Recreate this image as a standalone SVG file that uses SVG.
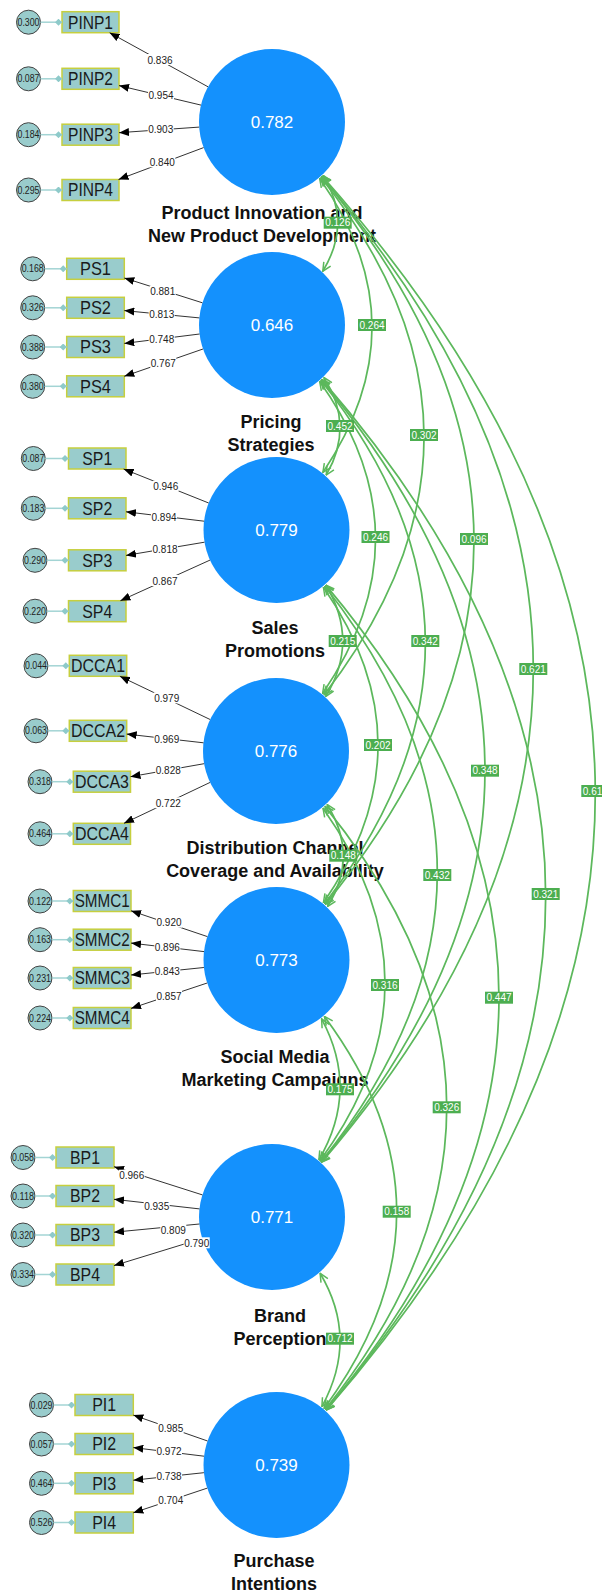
<svg xmlns="http://www.w3.org/2000/svg" width="602" height="1591" viewBox="0 0 602 1591">
<defs>
<marker id="ga" viewBox="0 0 10 10" refX="9.5" refY="5" markerWidth="10" markerHeight="10" markerUnits="userSpaceOnUse" orient="auto-start-reverse"><path d="M1,1 L9.5,5 L1,9" fill="none" stroke="#5cb85c" stroke-width="1.5"/></marker>
<marker id="ba" viewBox="0 0 10 8" refX="10" refY="4" markerWidth="10" markerHeight="8" markerUnits="userSpaceOnUse" orient="auto"><path d="M0,0 L10,4 L0,8 Z" fill="#000"/></marker>
<marker id="dia" viewBox="0 0 7 7" refX="7" refY="3.5" markerWidth="7" markerHeight="7" markerUnits="userSpaceOnUse" orient="auto"><path d="M0,3.5 L3.5,0 L7,3.5 L3.5,7 Z" fill="#8ecaca"/></marker>
</defs>
<style>
.lat circle{fill:#1491fd}
.lat .v{font-family:"Liberation Sans",Arial,sans-serif;font-size:17px;fill:#fff;text-anchor:middle}
.lat .n{font-family:"Liberation Sans",Arial,sans-serif;font-size:18px;font-weight:bold;fill:#111;text-anchor:middle}
.ind rect{fill:#99cccc;stroke:#c6cf3e;stroke-width:1.5}
.ind text{font-family:"Liberation Sans",Arial,sans-serif;font-size:18px;fill:#1a1a1a;text-anchor:middle}
.err circle{fill:#99cccc;stroke:#444;stroke-width:1}
.err text{font-family:"Liberation Sans",Arial,sans-serif;font-size:10px;fill:#222;text-anchor:middle}
.el{stroke:#a3d4d4;stroke-width:1.5;marker-end:url(#dia)}
.ld{stroke:#333;stroke-width:1;marker-end:url(#ba)}
.ll rect{fill:#fff}
.ll text{font-family:"Liberation Sans",Arial,sans-serif;font-size:10px;fill:#222;text-anchor:middle}
.cv{fill:none;stroke:#5cb85c;stroke-width:1.7;marker-start:url(#ga);marker-end:url(#ga)}
.gl rect{fill:#4cae50}
.gl text{font-family:"Liberation Sans",Arial,sans-serif;font-size:10px;fill:#fff;text-anchor:middle}
</style>
<rect width="602" height="1591" fill="#fff"/>

<!-- latent nodes -->
<g id="PINP" class="lat"><circle cx="272" cy="122" r="73"/><text class="v" x="272" y="128">0.782</text><text class="n" x="262" y="219">Product Innovation and</text><text class="n" x="262" y="242">New Product Development</text></g>
<g id="PS" class="lat"><circle cx="272" cy="325" r="73"/><text class="v" x="272" y="331">0.646</text><text class="n" x="271" y="428">Pricing</text><text class="n" x="271" y="451">Strategies</text></g>
<g id="SP" class="lat"><circle cx="276.5" cy="530" r="73"/><text class="v" x="276.5" y="536">0.779</text><text class="n" x="275" y="634">Sales</text><text class="n" x="275" y="657">Promotions</text></g>
<g id="DCCA" class="lat"><circle cx="276" cy="751" r="73"/><text class="v" x="276" y="757">0.776</text><text class="n" x="275" y="854">Distribution Channel</text><text class="n" x="275" y="877">Coverage and Availability</text></g>
<g id="SMMC" class="lat"><circle cx="276.5" cy="960" r="73"/><text class="v" x="276.5" y="966">0.773</text><text class="n" x="275" y="1063">Social Media</text><text class="n" x="275" y="1086">Marketing Campaigns</text></g>
<g id="BP" class="lat"><circle cx="272" cy="1217" r="73"/><text class="v" x="272" y="1223">0.771</text><text class="n" x="280" y="1322">Brand</text><text class="n" x="280" y="1345">Perception</text></g>
<g id="PI" class="lat"><circle cx="276.5" cy="1465" r="73"/><text class="v" x="276.5" y="1471">0.739</text><text class="n" x="274" y="1567">Purchase</text><text class="n" x="274" y="1590">Intentions</text></g>

<!-- indicator nodes -->
<g id="PINP1" class="ind"><rect x="62" y="11.7" width="57" height="21"/><text x="90.5" y="28.5" textLength="45" lengthAdjust="spacingAndGlyphs">PINP1</text></g>
<g id="PINP2" class="ind"><rect x="62" y="68.3" width="57" height="21"/><text x="90.5" y="85.1" textLength="45" lengthAdjust="spacingAndGlyphs">PINP2</text></g>
<g id="PINP3" class="ind"><rect x="62" y="124.2" width="57" height="21"/><text x="90.5" y="141" textLength="45" lengthAdjust="spacingAndGlyphs">PINP3</text></g>
<g id="PINP4" class="ind"><rect x="62" y="179.5" width="57" height="21"/><text x="90.5" y="196.3" textLength="45" lengthAdjust="spacingAndGlyphs">PINP4</text></g>
<g id="PS1" class="ind"><rect x="66.7" y="258.3" width="57.6" height="21"/><text x="95.5" y="275.1" textLength="31" lengthAdjust="spacingAndGlyphs">PS1</text></g>
<g id="PS2" class="ind"><rect x="66.7" y="297.3" width="57.6" height="21"/><text x="95.5" y="314.1" textLength="31" lengthAdjust="spacingAndGlyphs">PS2</text></g>
<g id="PS3" class="ind"><rect x="66.7" y="336.5" width="57.6" height="21"/><text x="95.5" y="353.3" textLength="31" lengthAdjust="spacingAndGlyphs">PS3</text></g>
<g id="PS4" class="ind"><rect x="66.7" y="375.8" width="57.6" height="21"/><text x="95.5" y="392.6" textLength="31" lengthAdjust="spacingAndGlyphs">PS4</text></g>
<g id="SP1" class="ind"><rect x="68.5" y="448" width="57.5" height="21"/><text x="97.25" y="464.8" textLength="30" lengthAdjust="spacingAndGlyphs">SP1</text></g>
<g id="SP2" class="ind"><rect x="68.5" y="497.8" width="57.5" height="21"/><text x="97.25" y="514.6" textLength="30" lengthAdjust="spacingAndGlyphs">SP2</text></g>
<g id="SP3" class="ind"><rect x="68.5" y="549.8" width="57.5" height="21"/><text x="97.25" y="566.6" textLength="30" lengthAdjust="spacingAndGlyphs">SP3</text></g>
<g id="SP4" class="ind"><rect x="68.5" y="600.7" width="57.5" height="21"/><text x="97.25" y="617.5" textLength="30" lengthAdjust="spacingAndGlyphs">SP4</text></g>
<g id="DCCA1" class="ind"><rect x="69.3" y="655.3" width="57.4" height="21"/><text x="98" y="672.1" textLength="54" lengthAdjust="spacingAndGlyphs">DCCA1</text></g>
<g id="DCCA2" class="ind"><rect x="69.3" y="720.3" width="57.4" height="21"/><text x="98" y="737.1" textLength="54" lengthAdjust="spacingAndGlyphs">DCCA2</text></g>
<g id="DCCA3" class="ind"><rect x="73.3" y="771.2" width="57.2" height="21"/><text x="101.9" y="788" textLength="54" lengthAdjust="spacingAndGlyphs">DCCA3</text></g>
<g id="DCCA4" class="ind"><rect x="73.3" y="823.3" width="57.2" height="21"/><text x="101.9" y="840.1" textLength="54" lengthAdjust="spacingAndGlyphs">DCCA4</text></g>
<g id="SMMC1" class="ind"><rect x="73.3" y="890.5" width="57.7" height="21"/><text x="102.15" y="907.3" textLength="55" lengthAdjust="spacingAndGlyphs">SMMC1</text></g>
<g id="SMMC2" class="ind"><rect x="73.3" y="929.2" width="57.7" height="21"/><text x="102.15" y="946" textLength="55" lengthAdjust="spacingAndGlyphs">SMMC2</text></g>
<g id="SMMC3" class="ind"><rect x="73.3" y="967.5" width="57.7" height="21"/><text x="102.15" y="984.3" textLength="55" lengthAdjust="spacingAndGlyphs">SMMC3</text></g>
<g id="SMMC4" class="ind"><rect x="73.3" y="1007.5" width="57.7" height="21"/><text x="102.15" y="1024.3" textLength="55" lengthAdjust="spacingAndGlyphs">SMMC4</text></g>
<g id="BP1" class="ind"><rect x="56" y="1147" width="58" height="21"/><text x="85" y="1163.8" textLength="30" lengthAdjust="spacingAndGlyphs">BP1</text></g>
<g id="BP2" class="ind"><rect x="56" y="1185.5" width="58" height="21"/><text x="85" y="1202.3" textLength="30" lengthAdjust="spacingAndGlyphs">BP2</text></g>
<g id="BP3" class="ind"><rect x="56" y="1224.5" width="58" height="21"/><text x="85" y="1241.3" textLength="30" lengthAdjust="spacingAndGlyphs">BP3</text></g>
<g id="BP4" class="ind"><rect x="56" y="1264" width="58" height="21"/><text x="85" y="1280.8" textLength="30" lengthAdjust="spacingAndGlyphs">BP4</text></g>
<g id="PI1" class="ind"><rect x="75" y="1394.5" width="58.3" height="21"/><text x="104.15" y="1411.3" textLength="24" lengthAdjust="spacingAndGlyphs">PI1</text></g>
<g id="PI2" class="ind"><rect x="75" y="1433.5" width="58.3" height="21"/><text x="104.15" y="1450.3" textLength="24" lengthAdjust="spacingAndGlyphs">PI2</text></g>
<g id="PI3" class="ind"><rect x="75" y="1472.8" width="58.3" height="21"/><text x="104.15" y="1489.6" textLength="24" lengthAdjust="spacingAndGlyphs">PI3</text></g>
<g id="PI4" class="ind"><rect x="75" y="1512" width="58.3" height="21"/><text x="104.15" y="1528.8" textLength="24" lengthAdjust="spacingAndGlyphs">PI4</text></g>

<!-- error nodes -->
<g id="e_PINP1" class="err"><circle cx="28.5" cy="22.2" r="12"/><text x="28.5" y="25.8" textLength="22" lengthAdjust="spacingAndGlyphs">0.300</text></g>
<g id="e_PINP2" class="err"><circle cx="28.5" cy="78.8" r="12"/><text x="28.5" y="82.4" textLength="22" lengthAdjust="spacingAndGlyphs">0.087</text></g>
<g id="e_PINP3" class="err"><circle cx="28.5" cy="134.7" r="12"/><text x="28.5" y="138.3" textLength="22" lengthAdjust="spacingAndGlyphs">0.184</text></g>
<g id="e_PINP4" class="err"><circle cx="28.5" cy="190" r="12"/><text x="28.5" y="193.6" textLength="22" lengthAdjust="spacingAndGlyphs">0.295</text></g>
<g id="e_PS1" class="err"><circle cx="32.7" cy="268.8" r="12"/><text x="32.7" y="272.4" textLength="22" lengthAdjust="spacingAndGlyphs">0.168</text></g>
<g id="e_PS2" class="err"><circle cx="32.7" cy="307.8" r="12"/><text x="32.7" y="311.4" textLength="22" lengthAdjust="spacingAndGlyphs">0.326</text></g>
<g id="e_PS3" class="err"><circle cx="32.7" cy="347" r="12"/><text x="32.7" y="350.6" textLength="22" lengthAdjust="spacingAndGlyphs">0.388</text></g>
<g id="e_PS4" class="err"><circle cx="32.7" cy="386.3" r="12"/><text x="32.7" y="389.9" textLength="22" lengthAdjust="spacingAndGlyphs">0.380</text></g>
<g id="e_SP1" class="err"><circle cx="33.3" cy="458.5" r="12"/><text x="33.3" y="462.1" textLength="22" lengthAdjust="spacingAndGlyphs">0.087</text></g>
<g id="e_SP2" class="err"><circle cx="33.3" cy="508.3" r="12"/><text x="33.3" y="511.9" textLength="22" lengthAdjust="spacingAndGlyphs">0.183</text></g>
<g id="e_SP3" class="err"><circle cx="35" cy="560.3" r="12"/><text x="35" y="563.9" textLength="22" lengthAdjust="spacingAndGlyphs">0.290</text></g>
<g id="e_SP4" class="err"><circle cx="35" cy="611.2" r="12"/><text x="35" y="614.8" textLength="22" lengthAdjust="spacingAndGlyphs">0.220</text></g>
<g id="e_DCCA1" class="err"><circle cx="36" cy="665.8" r="12"/><text x="36" y="669.4" textLength="22" lengthAdjust="spacingAndGlyphs">0.044</text></g>
<g id="e_DCCA2" class="err"><circle cx="36" cy="730.8" r="12"/><text x="36" y="734.4" textLength="22" lengthAdjust="spacingAndGlyphs">0.063</text></g>
<g id="e_DCCA3" class="err"><circle cx="40" cy="781.7" r="12"/><text x="40" y="785.3" textLength="22" lengthAdjust="spacingAndGlyphs">0.318</text></g>
<g id="e_DCCA4" class="err"><circle cx="40" cy="833.8" r="12"/><text x="40" y="837.4" textLength="22" lengthAdjust="spacingAndGlyphs">0.464</text></g>
<g id="e_SMMC1" class="err"><circle cx="40" cy="901" r="12"/><text x="40" y="904.6" textLength="22" lengthAdjust="spacingAndGlyphs">0.122</text></g>
<g id="e_SMMC2" class="err"><circle cx="40" cy="939.7" r="12"/><text x="40" y="943.3" textLength="22" lengthAdjust="spacingAndGlyphs">0.163</text></g>
<g id="e_SMMC3" class="err"><circle cx="40" cy="978" r="12"/><text x="40" y="981.6" textLength="22" lengthAdjust="spacingAndGlyphs">0.231</text></g>
<g id="e_SMMC4" class="err"><circle cx="40" cy="1018" r="12"/><text x="40" y="1021.6" textLength="22" lengthAdjust="spacingAndGlyphs">0.224</text></g>
<g id="e_BP1" class="err"><circle cx="23" cy="1157.5" r="12"/><text x="23" y="1161.1" textLength="22" lengthAdjust="spacingAndGlyphs">0.058</text></g>
<g id="e_BP2" class="err"><circle cx="23" cy="1196" r="12"/><text x="23" y="1199.6" textLength="22" lengthAdjust="spacingAndGlyphs">0.118</text></g>
<g id="e_BP3" class="err"><circle cx="23" cy="1235" r="12"/><text x="23" y="1238.6" textLength="22" lengthAdjust="spacingAndGlyphs">0.320</text></g>
<g id="e_BP4" class="err"><circle cx="23" cy="1274.5" r="12"/><text x="23" y="1278.1" textLength="22" lengthAdjust="spacingAndGlyphs">0.334</text></g>
<g id="e_PI1" class="err"><circle cx="41.5" cy="1405" r="12"/><text x="41.5" y="1408.6" textLength="22" lengthAdjust="spacingAndGlyphs">0.029</text></g>
<g id="e_PI2" class="err"><circle cx="41.5" cy="1444" r="12"/><text x="41.5" y="1447.6" textLength="22" lengthAdjust="spacingAndGlyphs">0.057</text></g>
<g id="e_PI3" class="err"><circle cx="41.5" cy="1483.3" r="12"/><text x="41.5" y="1486.9" textLength="22" lengthAdjust="spacingAndGlyphs">0.464</text></g>
<g id="e_PI4" class="err"><circle cx="41.5" cy="1522.5" r="12"/><text x="41.5" y="1526.1" textLength="22" lengthAdjust="spacingAndGlyphs">0.526</text></g>

<!-- connectors -->
<g id="connectors">
<g id="error-links">
<line class="el" x1="40.5" y1="22.2" x2="62" y2="22.2"/><line class="el" x1="40.5" y1="78.8" x2="62" y2="78.8"/><line class="el" x1="40.5" y1="134.7" x2="62" y2="134.7"/><line class="el" x1="40.5" y1="190" x2="62" y2="190"/>
<line class="el" x1="44.7" y1="268.8" x2="66.7" y2="268.8"/><line class="el" x1="44.7" y1="307.8" x2="66.7" y2="307.8"/><line class="el" x1="44.7" y1="347" x2="66.7" y2="347"/><line class="el" x1="44.7" y1="386.3" x2="66.7" y2="386.3"/>
<line class="el" x1="45.3" y1="458.5" x2="68.5" y2="458.5"/><line class="el" x1="45.3" y1="508.3" x2="68.5" y2="508.3"/><line class="el" x1="47" y1="560.3" x2="68.5" y2="560.3"/><line class="el" x1="47" y1="611.2" x2="68.5" y2="611.2"/>
<line class="el" x1="48" y1="665.8" x2="69.3" y2="665.8"/><line class="el" x1="48" y1="730.8" x2="69.3" y2="730.8"/><line class="el" x1="52" y1="781.7" x2="73.3" y2="781.7"/><line class="el" x1="52" y1="833.8" x2="73.3" y2="833.8"/>
<line class="el" x1="52" y1="901" x2="73.3" y2="901"/><line class="el" x1="52" y1="939.7" x2="73.3" y2="939.7"/><line class="el" x1="52" y1="978" x2="73.3" y2="978"/><line class="el" x1="52" y1="1018" x2="73.3" y2="1018"/>
<line class="el" x1="35" y1="1157.5" x2="56" y2="1157.5"/><line class="el" x1="35" y1="1196" x2="56" y2="1196"/><line class="el" x1="35" y1="1235" x2="56" y2="1235"/><line class="el" x1="35" y1="1274.5" x2="56" y2="1274.5"/>
<line class="el" x1="53.5" y1="1405" x2="75" y2="1405"/><line class="el" x1="53.5" y1="1444" x2="75" y2="1444"/><line class="el" x1="53.5" y1="1483.3" x2="75" y2="1483.3"/><line class="el" x1="53.5" y1="1522.5" x2="75" y2="1522.5"/>
</g>
<g id="loadings">
<line class="ld" x1="208" y1="86.8" x2="109.6" y2="32.7"/><line class="ld" x1="201" y1="105.1" x2="119" y2="85.6"/><line class="ld" x1="199.2" y1="127.1" x2="119" y2="132.7"/><line class="ld" x1="203.6" y1="147.6" x2="118.5" y2="179.5"/>
<line class="ld" x1="202.4" y1="302.8" x2="124.3" y2="278"/><line class="ld" x1="199.3" y1="317.9" x2="124.3" y2="310.6"/><line class="ld" x1="199.6" y1="334" x2="124.3" y2="343.4"/><line class="ld" x1="203" y1="349" x2="124.3" y2="376.3"/>
<line class="ld" x1="208.7" y1="503" x2="123.6" y2="469"/><line class="ld" x1="204.1" y1="521.2" x2="126" y2="511.8"/><line class="ld" x1="204.5" y1="542.2" x2="126" y2="555.4"/><line class="ld" x1="210" y1="560.1" x2="120.4" y2="600.7"/>
<line class="ld" x1="210.1" y1="719.5" x2="119.9" y2="676.3"/><line class="ld" x1="203.5" y1="742.8" x2="126.7" y2="734.1"/><line class="ld" x1="204.1" y1="763.7" x2="130.5" y2="776.7"/><line class="ld" x1="210.1" y1="782.4" x2="124" y2="823.3"/>
<line class="ld" x1="207.4" y1="936.6" x2="131" y2="910.8"/><line class="ld" x1="204" y1="951.6" x2="131" y2="943.1"/><line class="ld" x1="203.9" y1="967.5" x2="131" y2="975"/><line class="ld" x1="207.2" y1="983" x2="131" y2="1008.4"/>
<line class="ld" x1="202.4" y1="1194.9" x2="114" y2="1166.7"/><line class="ld" x1="199.5" y1="1208.9" x2="114" y2="1199.3"/><line class="ld" x1="199.4" y1="1224" x2="114" y2="1232.2"/><line class="ld" x1="202.2" y1="1238.5" x2="114" y2="1265.6"/>
<line class="ld" x1="207.6" y1="1441" x2="133.3" y2="1415.1"/><line class="ld" x1="204" y1="1456.2" x2="133.3" y2="1447.6"/><line class="ld" x1="203.9" y1="1472.7" x2="133.3" y2="1480.2"/><line class="ld" x1="207.3" y1="1488.1" x2="133.3" y2="1512.8"/>
</g>
<g id="loading-labels" class="ll">
<g transform="translate(160,60)"><rect x="-13" y="-6" width="26" height="11"/><text y="3.5">0.836</text></g>
<g transform="translate(161,95.7)"><rect x="-13" y="-6" width="26" height="11"/><text y="3.5">0.954</text></g>
<g transform="translate(160.7,129)"><rect x="-13" y="-6" width="26" height="11"/><text y="3.5">0.903</text></g>
<g transform="translate(162.3,162.3)"><rect x="-13" y="-6" width="26" height="11"/><text y="3.5">0.840</text></g>
<g transform="translate(162.7,291.7)"><rect x="-13" y="-6" width="26" height="11"/><text y="3.5">0.881</text></g>
<g transform="translate(161.7,314)"><rect x="-13" y="-6" width="26" height="11"/><text y="3.5">0.813</text></g>
<g transform="translate(161.7,339.3)"><rect x="-13" y="-6" width="26" height="11"/><text y="3.5">0.748</text></g>
<g transform="translate(163.3,363.3)"><rect x="-13" y="-6" width="26" height="11"/><text y="3.5">0.767</text></g>
<g transform="translate(165.7,486.7)"><rect x="-13" y="-6" width="26" height="11"/><text y="3.5">0.946</text></g>
<g transform="translate(164,517.7)"><rect x="-13" y="-6" width="26" height="11"/><text y="3.5">0.894</text></g>
<g transform="translate(165,549)"><rect x="-13" y="-6" width="26" height="11"/><text y="3.5">0.818</text></g>
<g transform="translate(165,581)"><rect x="-13" y="-6" width="26" height="11"/><text y="3.5">0.867</text></g>
<g transform="translate(166.7,698.3)"><rect x="-13" y="-6" width="26" height="11"/><text y="3.5">0.979</text></g>
<g transform="translate(166.7,739.3)"><rect x="-13" y="-6" width="26" height="11"/><text y="3.5">0.969</text></g>
<g transform="translate(168.3,770)"><rect x="-13" y="-6" width="26" height="11"/><text y="3.5">0.828</text></g>
<g transform="translate(168.3,803.3)"><rect x="-13" y="-6" width="26" height="11"/><text y="3.5">0.722</text></g>
<g transform="translate(169,922.7)"><rect x="-13" y="-6" width="26" height="11"/><text y="3.5">0.920</text></g>
<g transform="translate(167.3,947.7)"><rect x="-13" y="-6" width="26" height="11"/><text y="3.5">0.896</text></g>
<g transform="translate(167.3,971.7)"><rect x="-13" y="-6" width="26" height="11"/><text y="3.5">0.843</text></g>
<g transform="translate(169,996)"><rect x="-13" y="-6" width="26" height="11"/><text y="3.5">0.857</text></g>
<g transform="translate(131.7,1175.7)"><rect x="-13" y="-6" width="26" height="11"/><text y="3.5">0.966</text></g>
<g transform="translate(156.7,1206)"><rect x="-13" y="-6" width="26" height="11"/><text y="3.5">0.935</text></g>
<g transform="translate(173.3,1230)"><rect x="-13" y="-6" width="26" height="11"/><text y="3.5">0.809</text></g>
<g transform="translate(196.7,1243.3)"><rect x="-13" y="-6" width="26" height="11"/><text y="3.5">0.790</text></g>
<g transform="translate(170.7,1428.3)"><rect x="-13" y="-6" width="26" height="11"/><text y="3.5">0.985</text></g>
<g transform="translate(169,1451)"><rect x="-13" y="-6" width="26" height="11"/><text y="3.5">0.972</text></g>
<g transform="translate(169,1476.7)"><rect x="-13" y="-6" width="26" height="11"/><text y="3.5">0.738</text></g>
<g transform="translate(170.7,1500.7)"><rect x="-13" y="-6" width="26" height="11"/><text y="3.5">0.704</text></g>
</g>
<g id="correlations">
<path class="cv" d="M323.3,175.4 Q352.3,222.9 322.8,271.2"/>
<path class="cv" d="M319.7,178.6 Q422.7,324.5 322.9,472.4"/>
<path class="cv" d="M324,377.6 Q354.9,425.7 326.2,475.1"/>
<path class="cv" d="M321,177.5 Q525.5,434.1 324.1,694.8"/>
<path class="cv" d="M319.7,381.6 Q429.9,536.5 322.6,693.5"/>
<path class="cv" d="M321.6,176.9 Q624.5,537.6 325.3,904.4"/>
<path class="cv" d="M326,585.2 Q359.5,641 325.8,696.4"/>
<path class="cv" d="M321,380.5 Q527.9,640 324.6,903.7"/>
<path class="cv" d="M321.7,176.8 Q744.9,668.7 321.7,1162.2"/>
<path class="cv" d="M323.4,587.3 Q432.6,745 323.4,902.7"/>
<path class="cv" d="M321.4,380.1 Q648.6,770.5 321.3,1161.9"/>
<path class="cv" d="M322.3,176.3 Q866.3,789 326.2,1410.2"/>
<path class="cv" d="M327.2,804.6 Q359.2,855.6 327.6,906.4"/>
<path class="cv" d="M324.7,586.1 Q551.7,876 321.1,1161.6"/>
<path class="cv" d="M321.9,379.6 Q767.4,893.2 326,1410"/>
<path class="cv" d="M323,808.2 Q448.5,985.6 320,1160.7"/>
<path class="cv" d="M325.8,585.1 Q672.1,997.8 325.9,1409.9"/>
<path class="cv" d="M321.6,1018.8 Q359.8,1089.7 318.9,1159.7"/>
<path class="cv" d="M325,806.4 Q568.3,1106.9 325.3,1409.4"/>
<path class="cv" d="M324.4,1016.4 Q469.1,1211.4 324.1,1408.4"/>
<path class="cv" d="M320.1,1273.3 Q359,1338.6 321.9,1406.6"/>
</g>
<g id="correlation-labels" class="gl">
<g transform="translate(337.7,222.7)"><rect x="-14" y="-6" width="28" height="12"/><text y="3.6">0.126</text></g>
<g transform="translate(372,325)"><rect x="-14" y="-6" width="28" height="12"/><text y="3.6">0.264</text></g>
<g transform="translate(340,426)"><rect x="-14" y="-6" width="28" height="12"/><text y="3.6">0.452</text></g>
<g transform="translate(424,435)"><rect x="-14" y="-6" width="28" height="12"/><text y="3.6">0.302</text></g>
<g transform="translate(375.5,537)"><rect x="-14" y="-6" width="28" height="12"/><text y="3.6">0.246</text></g>
<g transform="translate(474,539)"><rect x="-14" y="-6" width="28" height="12"/><text y="3.6">0.096</text></g>
<g transform="translate(342.7,641)"><rect x="-14" y="-6" width="28" height="12"/><text y="3.6">0.215</text></g>
<g transform="translate(425.3,641)"><rect x="-14" y="-6" width="28" height="12"/><text y="3.6">0.342</text></g>
<g transform="translate(533.3,669)"><rect x="-14" y="-6" width="28" height="12"/><text y="3.6">0.621</text></g>
<g transform="translate(378,745)"><rect x="-14" y="-6" width="28" height="12"/><text y="3.6">0.202</text></g>
<g transform="translate(485,770.7)"><rect x="-14" y="-6" width="28" height="12"/><text y="3.6">0.348</text></g>
<g transform="translate(595.3,791)"><rect x="-14" y="-6" width="28" height="12"/><text x="-12.5" y="3.6" style="text-anchor:start">0.61</text></g>
<g transform="translate(343.3,855.7)"><rect x="-14" y="-6" width="28" height="12"/><text y="3.6">0.148</text></g>
<g transform="translate(437.3,875)"><rect x="-14" y="-6" width="28" height="12"/><text y="3.6">0.432</text></g>
<g transform="translate(545.7,894)"><rect x="-14" y="-6" width="28" height="12"/><text y="3.6">0.321</text></g>
<g transform="translate(385,985)"><rect x="-14" y="-6" width="28" height="12"/><text y="3.6">0.316</text></g>
<g transform="translate(499,997.7)"><rect x="-14" y="-6" width="28" height="12"/><text y="3.6">0.447</text></g>
<g transform="translate(340,1089.3)"><rect x="-14" y="-6" width="28" height="12"/><text y="3.6">0.175</text></g>
<g transform="translate(446.7,1107.3)"><rect x="-14" y="-6" width="28" height="12"/><text y="3.6">0.326</text></g>
<g transform="translate(396.7,1211.7)"><rect x="-14" y="-6" width="28" height="12"/><text y="3.6">0.158</text></g>
<g transform="translate(340,1338.7)"><rect x="-14" y="-6" width="28" height="12"/><text y="3.6">0.712</text></g>
</g>
</g>
</svg>
